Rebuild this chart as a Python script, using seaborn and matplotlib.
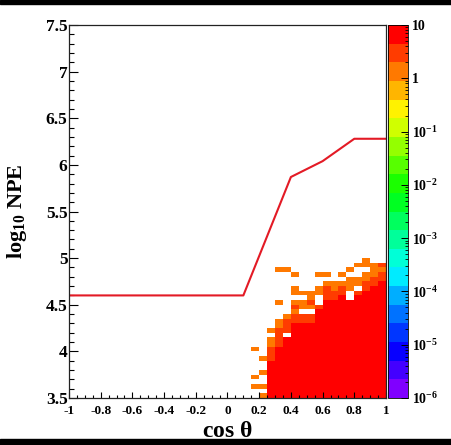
import numpy as np
import matplotlib
matplotlib.use("Agg")
import matplotlib.pyplot as plt
import seaborn as sns
import colorsys
from matplotlib.colors import ListedColormap, LogNorm
from matplotlib.patches import Rectangle
from matplotlib.ticker import MultipleLocator

# solid red part of the histogram: column centre (cos theta) and upper edge (log10 NPE)
red_cos = [0.275, 0.325, 0.375, 0.425, 0.475, 0.525, 0.575, 0.625, 0.675,
           0.725, 0.775, 0.825, 0.875, 0.925, 0.975]
red_top = [3.90, 4.05, 4.15, 4.30, 4.30, 4.30, 4.45, 4.55, 4.55,
           4.60, 4.55, 4.60, 4.65, 4.70, 4.75]

# darker red-orange cells (bin centres)
dark_cos = [0.275, 0.275, 0.275, 0.325, 0.325, 0.325, 0.325, 0.375, 0.375, 0.375,
            0.425, 0.425, 0.425, 0.475, 0.475, 0.525, 0.525, 0.525, 0.575,
            0.625, 0.625, 0.625, 0.675, 0.675, 0.725, 0.725, 0.825,
            0.875, 0.875, 0.925, 0.925, 0.975, 0.975, 0.975]
dark_log = [3.925, 3.975, 4.025, 4.075, 4.125, 4.175, 4.225, 4.225, 4.275, 4.325,
            4.325, 4.375, 4.475, 4.325, 4.375, 4.325, 4.375, 4.525, 4.475,
            4.575, 4.625, 4.675, 4.575, 4.625, 4.625, 4.675, 4.625,
            4.675, 4.725, 4.725, 4.775, 4.775, 4.825, 4.925]

# orange cells (bin centres)
orange_cos = [0.175, 0.175, 0.175, 0.225, 0.225, 0.225, 0.225,
              0.275, 0.275, 0.275, 0.325, 0.325, 0.325, 0.325,
              0.375, 0.375, 0.425, 0.425, 0.425, 0.425, 0.425,
              0.475, 0.475, 0.475, 0.525, 0.525, 0.525,
              0.575, 0.575, 0.575, 0.625, 0.625, 0.675, 0.675,
              0.725, 0.725, 0.775, 0.775, 0.775, 0.775,
              0.825, 0.825, 0.825, 0.875, 0.875, 0.875, 0.875,
              0.925, 0.925, 0.925, 0.975]
orange_log = [3.625, 3.725, 4.025, 3.525, 3.625, 3.775, 3.925,
              4.075, 4.125, 4.225, 4.275, 4.325, 4.525, 4.875,
              4.375, 4.875, 4.425, 4.525, 4.625, 4.675, 4.825,
              4.475, 4.525, 4.625, 4.475, 4.575, 4.625,
              4.625, 4.675, 4.825, 4.725, 4.825, 4.675, 4.725,
              4.725, 4.825, 4.675, 4.725, 4.775, 4.875,
              4.725, 4.775, 4.925, 4.775, 4.825, 4.925, 4.975,
              4.825, 4.875, 4.925, 4.875]

# red curve
line_cos = [-1.0, 0.1, 0.4, 0.6, 0.8, 1.0]
line_log = [4.60, 4.60, 5.87, 6.04, 6.28, 6.28]

val_red, val_dark, val_orange = 6.0, 3.0, 1.5

# expand the solid columns into cells
xs, ys, ws = [], [], []
for c, top in zip(red_cos, red_top):
    for y in np.arange(3.525, top, 0.05):
        xs.append(c); ys.append(y); ws.append(val_red)
xs += dark_cos; ys += dark_log; ws += [val_dark] * len(dark_cos)
xs += orange_cos; ys += orange_log; ws += [val_orange] * len(orange_cos)

# ROOT-like rainbow palette, 20 levels
cols = [colorsys.hsv_to_rgb(0.75 * (1 - i / 19), 1, 1) for i in range(20)]
cmap = ListedColormap(cols)

plt.rcParams["font.family"] = ["Liberation Serif", "DejaVu Serif"]
plt.rcParams["font.weight"] = "bold"
plt.rcParams["mathtext.fontset"] = "custom"
plt.rcParams["mathtext.rm"] = "Liberation Serif:bold"
plt.rcParams["mathtext.bf"] = "Liberation Serif:bold"
plt.rcParams["mathtext.it"] = "Liberation Serif:bold"

fig = plt.figure(figsize=(4.52, 4.45), dpi=100)
ax = fig.add_axes([69 / 452, 47 / 445, 317 / 452, 373 / 445])
cax = fig.add_axes([388 / 452, 47 / 445, 20 / 452, 373 / 445])

sns.histplot(x=xs, y=ys, weights=ws, ax=ax, cmap=cmap,
             bins=(np.linspace(-1, 1, 41), np.linspace(3.5, 7.5, 81)))
mesh = ax.collections[0]
mesh.set_norm(LogNorm(vmin=1e-6, vmax=10))
mesh.set_cmap(cmap)

sns.lineplot(x=line_cos, y=line_log, ax=ax, color="#e31a25", lw=1.5)

ax.set_xlim(-1, 1)
ax.set_ylim(3.5, 7.5)
ax.xaxis.set_minor_locator(MultipleLocator(0.05))
ax.yaxis.set_minor_locator(MultipleLocator(0.1))
ax.set_xticks(np.round(np.arange(-1, 1.01, 0.2), 1))
ax.set_xticklabels(["-1", "-0.8", "-0.6", "-0.4", "-0.2", "0", "0.2", "0.4", "0.6", "0.8", "1"],
                   fontsize=9.5, fontweight="bold")
ax.set_yticks(np.arange(3.5, 7.51, 0.5))
ax.set_yticklabels(["3.5", "4", "4.5", "5", "5.5", "6", "6.5", "7", "7.5"],
                   fontsize=12.5, fontweight="bold")
ax.tick_params(axis="x", which="major", direction="in", length=4.5, width=0.8, pad=5)
ax.tick_params(axis="x", which="minor", direction="in", length=2.5, width=0.8)
ax.tick_params(axis="y", which="major", direction="in", length=6.5, width=0.8, pad=1)
ax.tick_params(axis="y", which="minor", direction="in", length=3.5, width=0.8)
for s in ax.spines.values():
    s.set_linewidth(0.9)
    s.set_color("#222222")

ax.set_xlabel(r"cos $\mathrm{\theta}$", fontsize=17, fontweight="bold", labelpad=3)
ax.set_ylabel(r"log$_{10}$ NPE", fontsize=16, fontweight="bold", labelpad=12)

cb = fig.colorbar(mesh, cax=cax)
cb.outline.set_linewidth(0.6)
cb.set_ticks([1e-6, 1e-5, 1e-4, 1e-3, 1e-2, 1e-1, 1, 10])
cb.set_ticklabels([r"$10^{-6}$", r"$10^{-5}$", r"$10^{-4}$", r"$10^{-3}$",
                   r"$10^{-2}$", r"$10^{-1}$", "1", "10"])
cax.tick_params(which="major", direction="in", length=5, width=0.7, labelsize=10, pad=3)
cax.tick_params(which="minor", direction="in", length=2.5, width=0.6)

fig.patches.append(Rectangle((0, 1 - 4 / 445), 1, 4 / 445, transform=fig.transFigure,
                             color="black", zorder=10))
fig.patches.append(Rectangle((0, 0), 1, 6 / 445, transform=fig.transFigure,
                             color="black", zorder=10))

fig.savefig("out.png", dpi=100)
